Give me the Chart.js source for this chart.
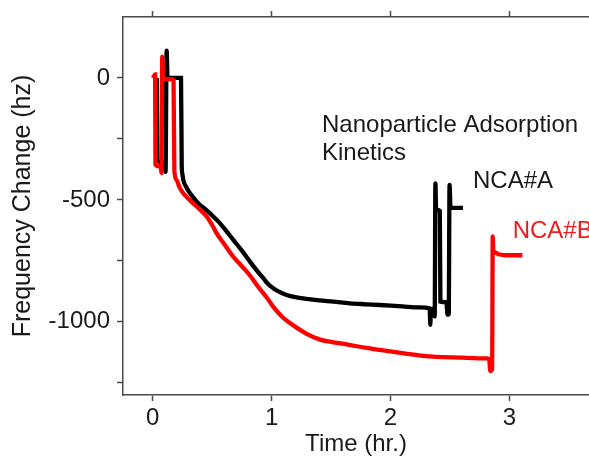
<!DOCTYPE html>
<html>
<head>
<meta charset="utf-8">
<script src="https://cdn.jsdelivr.net/npm/chart.js@4.4.1/dist/chart.umd.min.js"></script>
<style>
  html, body { margin: 0; padding: 0; background: #fff; }
  #wrap { width: 589px; height: 459px; }
</style>
</head>
<body>
<div id="wrap"><canvas id="qcmChart" width="589" height="459"></canvas></div>
<script>
// NCA#A (black) - time in hr, frequency change in hz
const timeA = [0.035, 0.04, 0.07, 0.1, 0.108, 0.117, 0.125, 0.18, 0.238, 0.244, 0.25, 0.257, 0.285, 0.314,
  0.355, 0.398, 0.44, 0.482, 0.52, 0.566, 0.62, 0.678, 0.75, 0.818, 0.88, 0.93, 0.97, 1.014, 1.07, 1.127,
  1.2, 1.295, 1.4, 1.519, 1.66, 1.8, 1.91, 2.1, 2.25, 2.33, 2.335, 2.34, 2.368, 2.372, 2.378, 2.384,
  2.415, 2.42, 2.47, 2.48, 2.49, 2.497, 2.505, 2.61];
const freqA = [0, -335, -345, -350, -385, 112, 0, 0, 0, -360, -395, -418, -450, -473,
  -498, -521, -537, -555, -573, -596, -628, -664, -708, -753, -792, -821, -845, -862, -878, -890,
  -899, -906, -912, -917, -924, -928, -931, -937, -941, -945, -1012, -950, -945, -978, -432, -540,
  -545, -917, -919, -970, -970, -438, -533, -533];

// NCA#B (red)
const timeB = [0, 0.012, 0.02, 0.023, 0.05, 0.068, 0.074, 0.08, 0.088, 0.15, 0.175, 0.182, 0.2, 0.225,
  0.257, 0.31, 0.37, 0.41, 0.454, 0.5, 0.538, 0.6, 0.678, 0.75, 0.818, 0.89, 0.959, 1.02, 1.09, 1.155,
  1.22, 1.295, 1.408, 1.5, 1.66, 1.8, 1.91, 2.1, 2.33, 2.6, 2.81, 2.83, 2.84, 2.855, 2.86, 2.865, 2.88,
  2.92, 2.97, 3.11];
const freqB = [0, 8, 15, -355, -362, -368, -390, 87, -5, -5, -8, -380, -418, -448,
  -473, -500, -527, -545, -568, -603, -637, -680, -733, -772, -810, -858, -900, -942, -980, -1005,
  -1027, -1049, -1073, -1082, -1095, -1107, -1115, -1128, -1142, -1147, -1150, -1153, -1202, -1195, -650, -705, -716,
  -724, -727, -727];

const xTicks = [0, 1, 2, 3];
const yTicks = [-1250, -1000, -750, -500, -250, 0];

// text notes placed in data units
const noteText = ['Nanoparticle Adsorption', 'Kinetics', 'NCA#A', 'NCA#B'];
const noteX = [1.424, 1.424, 2.694, 3.028];
const noteY = [-221, -336, -451, -656];
const noteColor = ['#1a1a1a', '#1a1a1a', '#1a1a1a', '#ee1c1c'];

const fontFam = "'Liberation Sans', Arial, sans-serif";
const axisColor = '#4a4a4a';
const textColor = '#1a1a1a';

function toPoints(xs, ys) {
    return xs.map((x, i) => ({ x: x, y: ys[i] }));
}

const notesPlugin = {
    id: 'notes',
    afterDatasetsDraw(chart) {
        const ctx = chart.ctx;
        const xs = chart.scales.x, ys = chart.scales.y;
        ctx.save();
        ctx.font = '24px ' + fontFam;
        ctx.textAlign = 'left';
        ctx.textBaseline = 'alphabetic';
        noteText.forEach((t, i) => {
            ctx.fillStyle = noteColor[i];
            ctx.fillText(t, xs.getPixelForValue(noteX[i]), ys.getPixelForValue(noteY[i]));
        });
        ctx.restore();
    }
};

const ctx = document.getElementById('qcmChart').getContext('2d');
const qcmChart = new Chart(ctx, {
    type: 'scatter',
    data: {
        datasets: [
            {
                label: 'NCA#B',
                data: toPoints(timeB, freqB),
                showLine: true,
                borderColor: '#ff0000',
                borderWidth: 4.3,
                pointRadius: 0,
                cubicInterpolationMode: 'monotone'
            },
            {
                label: 'NCA#A',
                data: toPoints(timeA, freqA),
                showLine: true,
                borderColor: '#000000',
                borderWidth: 4.3,
                pointRadius: 0,
                cubicInterpolationMode: 'monotone'
            }
        ]
    },
    options: {
        responsive: false,
        animation: false,
        devicePixelRatio: 1,
        layout: { padding: 0 },
        plugins: {
            legend: { display: false },
            tooltip: { enabled: false }
        },
        scales: {
            x: {
                type: 'linear',
                position: 'bottom',
                min: -0.25,
                max: 3.67,
                afterBuildTicks: s => { s.ticks = xTicks.map(v => ({ value: v })); },
                afterFit: s => { s.height = 64; s.paddingLeft = 0; s.paddingRight = 0; },
                grid: { drawOnChartArea: false, tickLength: 6, color: axisColor, tickWidth: 1.5 },
                border: { color: axisColor, width: 1.5 },
                ticks: { font: { family: fontFam, size: 24 }, color: textColor, padding: 3, maxRotation: 0 },
                title: {
                    display: true,
                    text: 'Time (hr.)',
                    font: { family: fontFam, size: 24 },
                    color: textColor,
                    padding: { top: 0, bottom: 0 }
                }
            },
            x2: {
                type: 'linear',
                position: 'top',
                min: -0.25,
                max: 3.67,
                afterBuildTicks: s => { s.ticks = xTicks.map(v => ({ value: v })); },
                afterFit: s => { s.height = 17; s.paddingLeft = 0; s.paddingRight = 0; },
                grid: { drawOnChartArea: false, tickLength: 6, color: axisColor, tickWidth: 1.5 },
                border: { color: axisColor, width: 1.5 },
                ticks: { display: false }
            },
            y: {
                type: 'linear',
                min: -1300,
                max: 250,
                afterBuildTicks: s => { s.ticks = yTicks.map(v => ({ value: v })); },
                afterFit: s => { s.width = 123; s.paddingTop = 0; s.paddingBottom = 0; },
                grid: { drawOnChartArea: false, tickLength: 6, color: axisColor, tickWidth: 1.5 },
                border: { color: axisColor, width: 1.5 },
                ticks: {
                    font: { family: fontFam, size: 24 },
                    color: textColor,
                    padding: 7,
                    callback: v => (v % 500 === 0 ? String(v) : '')
                },
                title: {
                    display: true,
                    text: 'Frequency Change (hz)',
                    font: { family: fontFam, size: 25 },
                    color: textColor,
                    padding: { top: 8, bottom: 0 }
                }
            }
        }
    },
    plugins: [notesPlugin]
});
</script>
</body>
</html>
